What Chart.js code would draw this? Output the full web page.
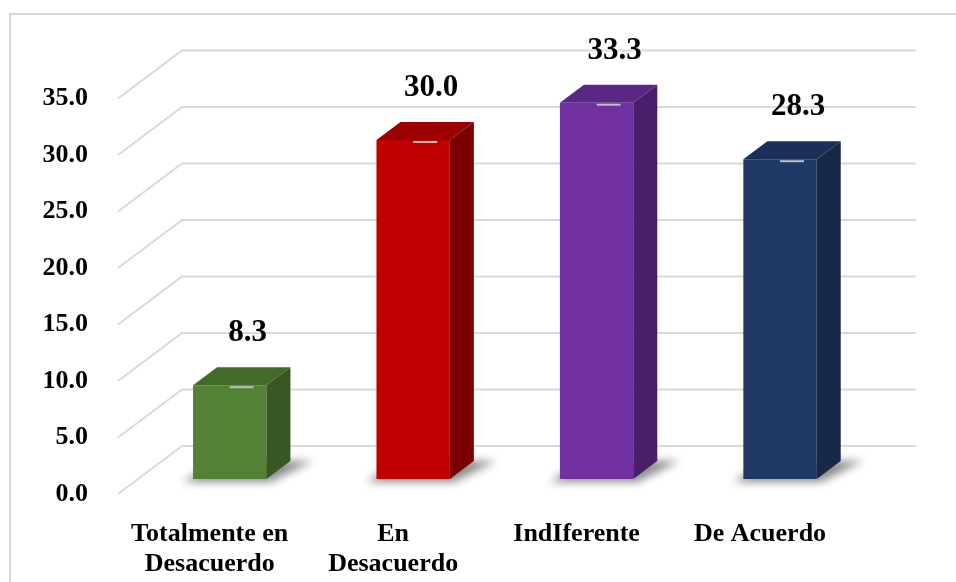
<!DOCTYPE html>
<html>
<head>
<meta charset="utf-8">
<script src="https://cdn.jsdelivr.net/npm/chart.js@4.4.0/dist/chart.umd.min.js"></script>
<style>
  html, body { margin: 0; padding: 0; background: #fff; }
  #wrap { width: 956px; height: 582px; position: relative; }
</style>
</head>
<body>
<div id="wrap"><canvas id="chart" width="956" height="582"></canvas></div>
<script>
// data
const categories = [["Totalmente en", "Desacuerdo"], ["En", "Desacuerdo"], "IndIferente", "De Acuerdo"];
const values = [8.3, 30.0, 33.3, 28.3];
const yTicks = [0, 5, 10, 15, 20, 25, 30, 35];

// colours: front face, top face, side face
const frontColors = ["#548235", "#c00000", "#7030a0", "#203864"];
const topColors = ["#426a29", "#9c0000", "#5b2784", "#1b3058"];
const sideColors = ["#385723", "#7a0000", "#4a1f69", "#172848"];

const FONT = "'Liberation Serif', 'Times New Roman', serif";
const DEPTH_X = 24, DEPTH_Y = 18;     // bar depth
const BACK_X = 44, BACK_Y = 33;       // back wall offset from bar plane
const FRONT_X = -20, FRONT_Y = 15;    // floor front edge offset

const threeD = {
  id: "threeD",
  beforeDraw(chart) {
    const ctx = chart.ctx;
    ctx.save();
    ctx.strokeStyle = "#d9d9d9";
    ctx.lineWidth = 2;
    ctx.strokeRect(10, 14, 1200, 1000);
    ctx.restore();
  },
  beforeDatasetsDraw(chart) {
    const ctx = chart.ctx;
    const { left, right } = chart.chartArea;
    const ys = chart.scales.y;
    ctx.save();
    // gridlines: floor diagonal + back wall
    ctx.strokeStyle = "#d9d9d9";
    ctx.lineWidth = 2;
    yTicks.forEach(v => {
      const yp = ys.getPixelForValue(v);
      ctx.beginPath();
      ctx.moveTo(left + FRONT_X, yp + FRONT_Y);
      ctx.lineTo(left + BACK_X, yp - BACK_Y);
      ctx.lineTo(right + BACK_X, yp - BACK_Y);
      ctx.stroke();
    });
    // soft shadows under the bars
    const meta = chart.getDatasetMeta(0);
    ctx.filter = "blur(4px)";
    ctx.fillStyle = "rgba(0,0,0,0.45)";
    meta.data.forEach(el => {
      const x0 = el.x - el.width / 2, x1 = el.x + el.width / 2, b = el.base;
      ctx.beginPath();
      ctx.moveTo(x0 - 10, b + 3);
      ctx.lineTo(x1 + 4, b + 3);
      ctx.lineTo(x1 + DEPTH_X + 22, b - DEPTH_Y);
      ctx.lineTo(x0 + DEPTH_X, b - DEPTH_Y);
      ctx.closePath();
      ctx.fill();
    });
    ctx.filter = "none";
    ctx.restore();
  },
  afterDatasetsDraw(chart) {
    const ctx = chart.ctx;
    const meta = chart.getDatasetMeta(0);
    ctx.save();
    meta.data.forEach((el, i) => {
      const x0 = el.x - el.width / 2, x1 = el.x + el.width / 2;
      const y = el.y, b = el.base;
      // top
      ctx.fillStyle = topColors[i];
      ctx.beginPath();
      ctx.moveTo(x0, y);
      ctx.lineTo(x1, y);
      ctx.lineTo(x1 + DEPTH_X, y - DEPTH_Y);
      ctx.lineTo(x0 + DEPTH_X, y - DEPTH_Y);
      ctx.closePath();
      ctx.fill();
      // side
      ctx.fillStyle = sideColors[i];
      ctx.beginPath();
      ctx.moveTo(x1, y);
      ctx.lineTo(x1 + DEPTH_X, y - DEPTH_Y);
      ctx.lineTo(x1 + DEPTH_X, b - DEPTH_Y);
      ctx.lineTo(x1, b);
      ctx.closePath();
      ctx.fill();
      // little grey tick on the front top edge
      ctx.strokeStyle = "#bfbfbf";
      ctx.lineWidth = 2;
      ctx.beginPath();
      ctx.moveTo(el.x, y + 2);
      ctx.lineTo(el.x + 24, y + 2);
      ctx.stroke();
      // value label
      ctx.fillStyle = "#000";
      ctx.font = "bold 31px " + FONT;
      ctx.textAlign = "center";
      ctx.textBaseline = "middle";
      ctx.fillText(values[i].toFixed(1), el.x + 18, y - 52);
    });
    ctx.restore();
  }
};

new Chart(document.getElementById("chart"), {
  type: "bar",
  data: {
    labels: categories,
    datasets: [{
      data: values,
      backgroundColor: frontColors,
      borderWidth: 0,
      categoryPercentage: 1,
      barPercentage: 0.4
    }]
  },
  options: {
    responsive: false,
    animation: false,
    devicePixelRatio: 1,
    layout: { padding: { top: 83.5, right: 84.25, bottom: 0, left: 0 } },
    plugins: { legend: { display: false }, tooltip: { enabled: false } },
    scales: {
      y: {
        min: 0,
        max: 35,
        afterBuildTicks: s => { s.ticks = yTicks.map(v => ({ value: v })); },
        afterFit: s => { s.width = 138; },
        grid: { display: false },
        border: { display: false },
        ticks: {
          padding: 42,
          labelOffset: 15,
          color: "#000",
          font: { family: FONT, size: 26, weight: "bold" },
          callback: v => Number(v).toFixed(1)
        }
      },
      x: {
        afterFit: s => { s.height = 103; },
        grid: { display: false },
        border: { display: false },
        ticks: {
          padding: 32,
          labelOffset: -20,
          maxRotation: 0,
          autoSkip: false,
          color: "#000",
          font: { family: FONT, size: 26, weight: "bold", lineHeight: 1.15 }
        }
      }
    }
  },
  plugins: [threeD]
});
</script>
</body>
</html>
